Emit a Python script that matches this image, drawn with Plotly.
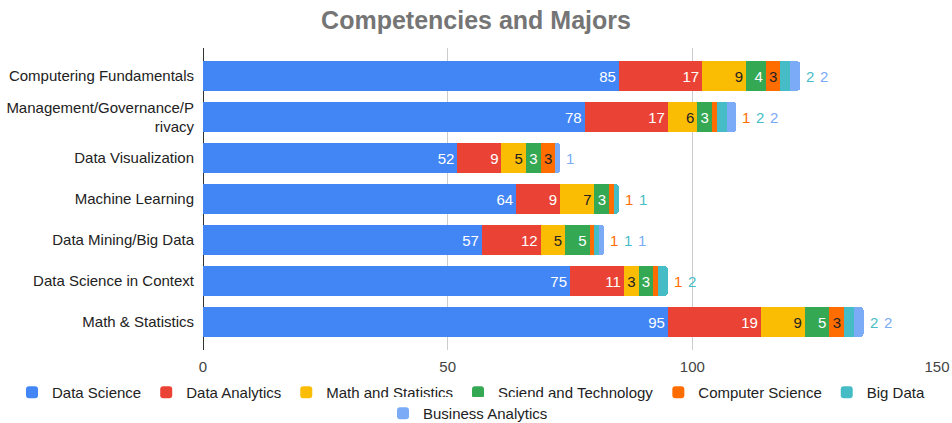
import plotly.graph_objects as go

categories = [
    "Computering Fundamentals",
    "Management/Governance/P<br>rivacy",
    "Data Visualization",
    "Machine Learning",
    "Data Mining/Big Data",
    "Data Science in Context",
    "Math & Statistics",
]

series_names = [
    "Data Science", "Data Analytics", "Math and Statistics",
    "Sciend and Technology", "Computer Science", "Big Data", "Business Analytics",
]

data_science = [85, 78, 52, 64, 57, 75, 95]
data_analytics = [17, 17, 9, 9, 12, 11, 19]
math_statistics = [9, 6, 5, 7, 5, 3, 9]
science_technology = [4, 3, 3, 3, 5, 3, 5]
computer_science = [3, 1, 3, 1, 1, 1, 3]
big_data = [2, 2, 0, 1, 1, 2, 2]
business_analytics = [2, 2, 1, 0, 1, 0, 2]

series_values = [data_science, data_analytics, math_statistics, science_technology,
                 computer_science, big_data, business_analytics]

colors = ["#4285F4", "#EA4335", "#FBBC04", "#34A853", "#FF6D01", "#46BDC6", "#7BAAF7"]
text_colors = ["white", "white", "#222222", "white", "#222222", "white", "white"]

x_ticks = [0, 50, 100, 150]

FONT = "Liberation Sans, Arial, sans-serif"
FS = 15
INSIDE_MIN = 3  # segments smaller than this get their label after the bar

W, H = 952, 423

fig = go.Figure()
for idx, (name, vals, col, tcol) in enumerate(zip(series_names, series_values, colors, text_colors)):
    fig.add_trace(go.Bar(
        name=name,
        y=categories,
        x=vals,
        orientation="h",
        marker=dict(color=col, line=dict(width=0)),
        text=[str(v) if v >= INSIDE_MIN else "" for v in vals],
        textposition="inside",
        insidetextanchor="end",
        textangle=0,
        textfont=dict(color=tcol, size=FS, family=FONT),
        cliponaxis=False,
        legend="legend2" if idx == len(series_names) - 1 else "legend",
    ))

# labels for thin segments, listed after the end of each bar
annotations = []
for i, cat in enumerate(categories):
    total = sum(s[i] for s in series_values)
    k = 0
    for vals, col in zip(series_values, colors):
        v = vals[i]
        if 0 < v < INSIDE_MIN:
            annotations.append(dict(
                x=total, y=cat, xref="x", yref="y",
                text=str(v), showarrow=False,
                xanchor="center", xshift=10 + 14 * k,
                font=dict(color=col, size=FS, family=FONT),
            ))
            k += 1

PLOT_L, PLOT_R, PLOT_T, PLOT_B = 203, 937, 48, 350
plot_w = PLOT_R - PLOT_L
plot_h = PLOT_B - PLOT_T

fig.update_layout(
    width=W, height=H,
    margin=dict(l=PLOT_L, r=W - PLOT_R, t=PLOT_T, b=H - PLOT_B),
    paper_bgcolor="white", plot_bgcolor="white",
    barmode="stack",
    bargap=0.28,
    barcornerradius=3,
    uniformtext=dict(minsize=FS, mode="show"),
    title=dict(text="<b>Competencies and Majors</b>", x=0.5, xanchor="center",
               xref="container", y=1 - 20 / H, yanchor="middle", yref="container",
               font=dict(size=25, color="#757575", family=FONT)),
    font=dict(family=FONT, size=FS, color="#222222"),
    xaxis=dict(range=[0, 150], tickvals=x_ticks, ticktext=[str(t) for t in x_ticks],
               showgrid=True, gridcolor="#CCCCCC", gridwidth=1,
               zeroline=True, zerolinecolor="#333333", zerolinewidth=1,
               showline=False, ticks="", tickfont=dict(size=FS, color="#444444"),
               ticklabelstandoff=6, automargin=False),
    yaxis=dict(categoryorder="array", categoryarray=categories,
               range=[6.683, -0.683], showgrid=False, ticks="",
               tickfont=dict(size=FS, color="#222222"), ticklabelstandoff=8,
               automargin=False),
    legend=dict(orientation="h",
                x=(12 - PLOT_L) / plot_w, xanchor="left",
                y=-(376 - PLOT_B) / plot_h, yanchor="top",
                font=dict(size=FS, color="#222222"), traceorder="normal"),
    legend2=dict(orientation="h", xref="container", yref="container",
                 x=468 / W, xanchor="center", y=1 - 397 / H, yanchor="top",
                 font=dict(size=FS, color="#222222")),
    annotations=annotations,
    showlegend=True,
)

fig.write_html("out.html")
